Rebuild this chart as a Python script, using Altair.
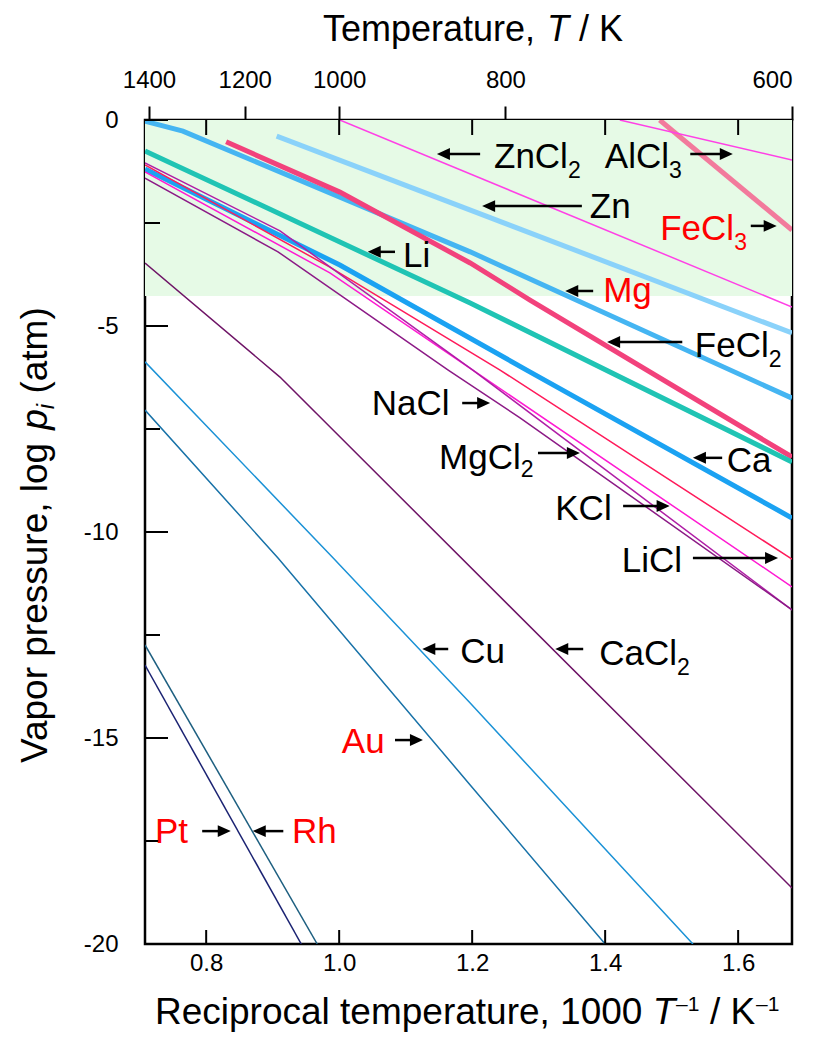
import altair as alt
import pandas as pd

FONT = "Liberation Sans"

# ---------------- axes ----------------
X_MIN, X_MAX = 0.708, 1.681
Y_MIN, Y_MAX = -20, 0
x_tick_values = [0.8, 1.0, 1.2, 1.4, 1.6]
y_major_ticks = [0, -5, -10, -15, -20]
y_minor_ticks = [-2.5, -7.5, -12.5, -17.5]
top_tick_pos = [0.714, 0.858, 1.0, 1.25, 1.681]
top_tick_labels = ["1400", "1200", "1000", "800", "600"]
band_top, band_bottom = 0.0, -4.27

# ---------------- series (1000/T, log p) ----------------
zn_x = [0.906, 1.681]
zn_y = [-0.39, -5.17]
mg_x = [0.708, 0.765, 1.197, 1.681]
mg_y = [-0.03, -0.27, -3.20, -6.75]
fecl2_x = [0.830, 1.001, 1.197, 1.287, 1.681]
fecl2_y = [-0.53, -1.75, -3.47, -4.37, -8.18]
li_x = [0.708, 1.197, 1.681]
li_y = [-0.75, -4.44, -8.30]
ca_x = [0.708, 1.001, 1.282, 1.681]
ca_y = [-1.19, -3.52, -6.07, -9.66]
fecl3_x = [1.482, 1.681]
fecl3_y = [0.0, -2.67]
zncl2_x = [1.001, 1.681]
zncl2_y = [0.0, -4.54]
alcl3_x = [1.422, 1.681]
alcl3_y = [0.0, -0.97]
licl_x = [0.708, 0.986, 1.242, 1.681]
licl_y = [-1.09, -3.57, -6.07, -10.66]
kcl_x = [0.708, 0.986, 1.201, 1.681]
kcl_y = [-1.26, -3.71, -6.07, -11.33]
mgcl2_x = [0.708, 0.911, 1.201, 1.681]
mgcl2_y = [-1.04, -2.69, -6.07, -11.89]
nacl_x = [0.708, 0.908, 1.164, 1.272, 1.681]
nacl_y = [-1.41, -3.20, -6.07, -7.23, -11.89]
cacl2_x = [0.708, 0.911, 1.681]
cacl2_y = [-3.47, -6.24, -18.64]
cu_x = [0.708, 0.991, 1.197, 1.532]
cu_y = [-5.87, -10.63, -14.15, -20.0]
au_x = [0.708, 0.908, 1.197, 1.400]
au_y = [-7.04, -10.63, -16.14, -20.0]
rh_x = [0.708, 0.967]
rh_y = [-12.74, -20.0]
pt_x = [0.708, 0.943]
pt_y = [-13.23, -20.0]

# ---------------- annotations ----------------
label_text = ["ZnCl", "AlCl", "Zn", "FeCl", "Li", "Mg", "FeCl", "NaCl", "MgCl",
              "Ca", "KCl", "LiCl", "Cu", "CaCl", "Au", "Pt", "Rh"]
label_sub = ["2", "3", "", "3", "", "", "2", "", "2", "", "", "", "", "2", "", "", ""]
label_x = [1.344, 1.496, 1.377, 1.594, 1.096, 1.397, 1.646, 1.049, 1.273,
           1.583, 1.325, 1.425, 1.182, 1.508, 1.004, 0.723, 0.929]
label_y = [-1.165, -1.165, -2.38, -2.91, -3.57, -4.42, -5.75, -7.16, -8.47,
           -8.54, -9.71, -10.97, -13.18, -13.23, -15.36, -17.55, -17.55]
label_sub_y = [-1.41, -1.41, -2.38, -3.16, -3.57, -4.42, -6.0, -7.16, -8.67,
               -8.54, -9.71, -10.97, -13.18, -13.47, -15.36, -17.55, -17.55]
label_red = [False, False, False, True, False, True, False, False, False,
             False, False, False, False, False, True, True, True]
arrow_tail_x = [1.212, 1.528, 1.365, 1.619, 1.084, 1.382, 1.516, 1.185, 1.299,
                1.576, 1.427, 1.532, 1.164, 1.367, 1.084, 0.794, 0.916]
arrow_tip_x = [1.147, 1.592, 1.215, 1.658, 1.043, 1.340, 1.403, 1.227, 1.362,
               1.532, 1.497, 1.660, 1.125, 1.325, 1.126, 0.837, 0.870]
arrow_y = [-0.825, -0.825, -2.09, -2.57, -3.20, -4.15, -5.39, -6.87, -8.08,
           -8.20, -9.37, -10.63, -12.84, -12.84, -15.05, -17.26, -17.26]

# ---------------- styles ----------------
line_names = ["Zn", "Mg", "FeCl2", "Li", "Ca", "FeCl3", "ZnCl2", "AlCl3", "LiCl",
              "KCl", "MgCl2", "NaCl", "CaCl2", "Cu", "Au", "Rh", "Pt"]
line_colors = ["#8ad2fa", "#45b5f2", "#f2427c", "#20c4b4", "#1ba2f2", "#f27a9c",
               "#ff40e6", "#ff40e6", "#ff1a5a", "#ff1ad2", "#b01ea6", "#8c1a86",
               "#6e1466", "#1b92d6", "#1872a8", "#1d5f80", "#1a2272"]
thick_names = ["Zn", "Mg", "FeCl2", "Li", "Ca", "FeCl3"]
line_data = [(zn_x, zn_y), (mg_x, mg_y), (fecl2_x, fecl2_y), (li_x, li_y), (ca_x, ca_y),
             (fecl3_x, fecl3_y), (zncl2_x, zncl2_y), (alcl3_x, alcl3_y), (licl_x, licl_y),
             (kcl_x, kcl_y), (mgcl2_x, mgcl2_y), (nacl_x, nacl_y), (cacl2_x, cacl2_y),
             (cu_x, cu_y), (au_x, au_y), (rh_x, rh_y), (pt_x, pt_y)]

rows = []
for name, (xs_, ys_) in zip(line_names, line_data):
    for i, (a, b) in enumerate(zip(xs_, ys_)):
        rows.append({"series": name, "x": a, "y": b, "i": i,
                     "thick": name in thick_names})
lines_df = pd.DataFrame(rows)

lab_df = pd.DataFrame({
    "text": label_text, "sub": label_sub, "x": label_x, "y": label_y,
    "sy": label_sub_y, "red": label_red,
    "hassub": [s != "" for s in label_sub],
})
arr_df = pd.DataFrame({
    "tail": arrow_tail_x, "tip": arrow_tip_x, "y": arrow_y,
    "dir": ["right" if b > a else "left" for a, b in zip(arrow_tail_x, arrow_tip_x)],
})

xs = alt.Scale(domain=[X_MIN, X_MAX], nice=False, zero=False)
ys = alt.Scale(domain=[Y_MIN, Y_MAX], nice=False, zero=False)
col_scale = alt.Scale(domain=line_names, range=line_colors)

# green band + bottom/left axes
band_df = pd.DataFrame({"x1": [X_MIN], "x2": [X_MAX], "y1": [band_top], "y2": [band_bottom]})
band = alt.Chart(band_df).mark_rect(color="#e6fae6").encode(
    x=alt.X("x1:Q", scale=xs, axis=alt.Axis(
        orient="bottom", values=x_tick_values, format=".1f", title=None,
        ticks=False, domain=False, grid=False, labelPadding=7)),
    x2="x2:Q",
    y=alt.Y("y1:Q", scale=ys, axis=alt.Axis(
        orient="left", values=y_major_ticks, labelExpr="'' + datum.value", title=None,
        ticks=False, domain=False, grid=False, labelPadding=27)),
    y2="y2:Q",
)

# top temperature axis
top_expr = "[%s][indexof([%s], datum.value)]" % (
    ",".join("'%s'" % s for s in top_tick_labels),
    ",".join(repr(v) for v in top_tick_pos))
top_axis = alt.Chart(pd.DataFrame({"t": top_tick_pos})).mark_point(opacity=0).encode(
    x=alt.X("t:Q", scale=xs, axis=alt.Axis(
        orient="top", values=top_tick_pos, labelExpr=top_expr, title=None,
        tickSize=14, tickWidth=2, tickColor="black", domain=False, grid=False,
        labelPadding=14)),
    y=alt.value(0),
)

# inward ticks
tick_rule = dict(color="black", strokeWidth=2)
xt_df = pd.DataFrame({"v": x_tick_values})
bottom_ticks = alt.Chart(xt_df).mark_rule(**tick_rule).encode(
    x=alt.X("v:Q", scale=xs, axis=None), y=alt.value(824), y2=alt.value(810))
top_ticks = alt.Chart(xt_df).mark_rule(**tick_rule).encode(
    x=alt.X("v:Q", scale=xs, axis=None), y=alt.value(0), y2=alt.value(15))
left_major = alt.Chart(pd.DataFrame({"v": y_major_ticks})).mark_rule(**tick_rule).encode(
    y=alt.Y("v:Q", scale=ys, axis=None), x=alt.value(0), x2=alt.value(23))
left_minor = alt.Chart(pd.DataFrame({"v": y_minor_ticks})).mark_rule(**tick_rule).encode(
    y=alt.Y("v:Q", scale=ys, axis=None), x=alt.value(0), x2=alt.value(15))

# curves
def line_layer(flag, width):
    return alt.Chart(lines_df).transform_filter(
        "datum.thick" if flag else "!datum.thick"
    ).mark_line(strokeWidth=width, clip=True).encode(
        x=alt.X("x:Q", scale=xs, axis=None),
        y=alt.Y("y:Q", scale=ys, axis=None),
        color=alt.Color("series:N", scale=col_scale, legend=None),
        detail="series:N",
        order="i:Q",
    )

thick = line_layer(True, 5)
thin = line_layer(False, 1.5)

# arrows
shafts = alt.Chart(arr_df).transform_calculate(
    end="datum.tip + (datum.tip > datum.tail ? -0.008 : 0.008)"
).mark_rule(color="black", strokeWidth=2.5).encode(
    x=alt.X("tail:Q", scale=xs, axis=None), x2="end:Q",
    y=alt.Y("y:Q", scale=ys, axis=None))
heads = alt.Chart(arr_df).mark_point(filled=True, color="black", opacity=1, size=676).encode(
    x=alt.X("tip:Q", scale=xs, axis=None),
    y=alt.Y("y:Q", scale=ys, axis=None),
    shape=alt.Shape("dir:N", scale=alt.Scale(
        domain=["left", "right"],
        range=["M0,0L1,-0.46L1,0.46Z", "M0,0L-1,-0.46L-1,0.46Z"]), legend=None),
)

red_cond = alt.condition("datum.red", alt.value("#ff0000"), alt.value("#000000"))
main_left = alt.Chart(lab_df).transform_filter("!datum.hassub").mark_text(
    align="left", baseline="alphabetic", font=FONT, fontSize=35).encode(
    x=alt.X("x:Q", scale=xs, axis=None), y=alt.Y("y:Q", scale=ys, axis=None),
    text="text:N", color=red_cond)
main_right = alt.Chart(lab_df).transform_filter("datum.hassub").mark_text(
    align="right", baseline="alphabetic", font=FONT, fontSize=35).encode(
    x=alt.X("x:Q", scale=xs, axis=None), y=alt.Y("y:Q", scale=ys, axis=None),
    text="text:N", color=red_cond)
subs = alt.Chart(lab_df).transform_filter("datum.hassub").mark_text(
    align="left", baseline="alphabetic", font=FONT, fontSize=23).encode(
    x=alt.X("x:Q", scale=xs, axis=None), y=alt.Y("sy:Q", scale=ys, axis=None),
    text="sub:N", color=red_cond)

# axis titles (pieces so that the symbols can be italic)
one = pd.DataFrame({"a": [0]})
def piece(txt, px, py, size=37, italic=False, angle=0):
    kw = dict(text=txt, font=FONT, fontSize=size, align="left", baseline="alphabetic",
              color="black", fontStyle="italic" if italic else "normal")
    if angle:
        kw["angle"] = angle
    return alt.Chart(one).mark_text(**kw).encode(x=alt.value(px), y=alt.value(py))

titles = [
    piece("Temperature,", 178, -79, size=36),
    piece("T", 402, -79, size=36, italic=True),
    piece("/ K", 434, -79, size=36),
    piece("Reciprocal temperature, 1000", 10, 904),
    piece("T", 507.7, 904, italic=True),
    piece("\u20131", 531, 891, size=21),
    piece("/ K", 565, 904),
    piece("\u20131", 611, 891, size=21),
    piece("Vapor pressure, log", -98, 643, angle=270),
    piece("p", -98, 309.8, italic=True, angle=270),
    piece("i", -91, 289.2, size=24, italic=True, angle=270),
    piece("(atm)", -98, 273.6, angle=270),
]

chart = alt.layer(
    band, top_axis, thick, thin, bottom_ticks, top_ticks, left_major, left_minor,
    shafts, heads, main_left, main_right, subs, *titles
).properties(
    width=647, height=824,
    autosize=alt.AutoSizeParams(type="none"),
    padding={"left": 137, "top": 112, "right": 13, "bottom": 101},
).resolve_axis(
    x="independent", y="independent"
).configure_view(
    stroke="black", strokeWidth=2.5
).configure_axis(
    labelFont=FONT, labelFontSize=24, labelColor="black"
)

chart.save("out.html", embed_options={"renderer": "svg", "actions": False})
